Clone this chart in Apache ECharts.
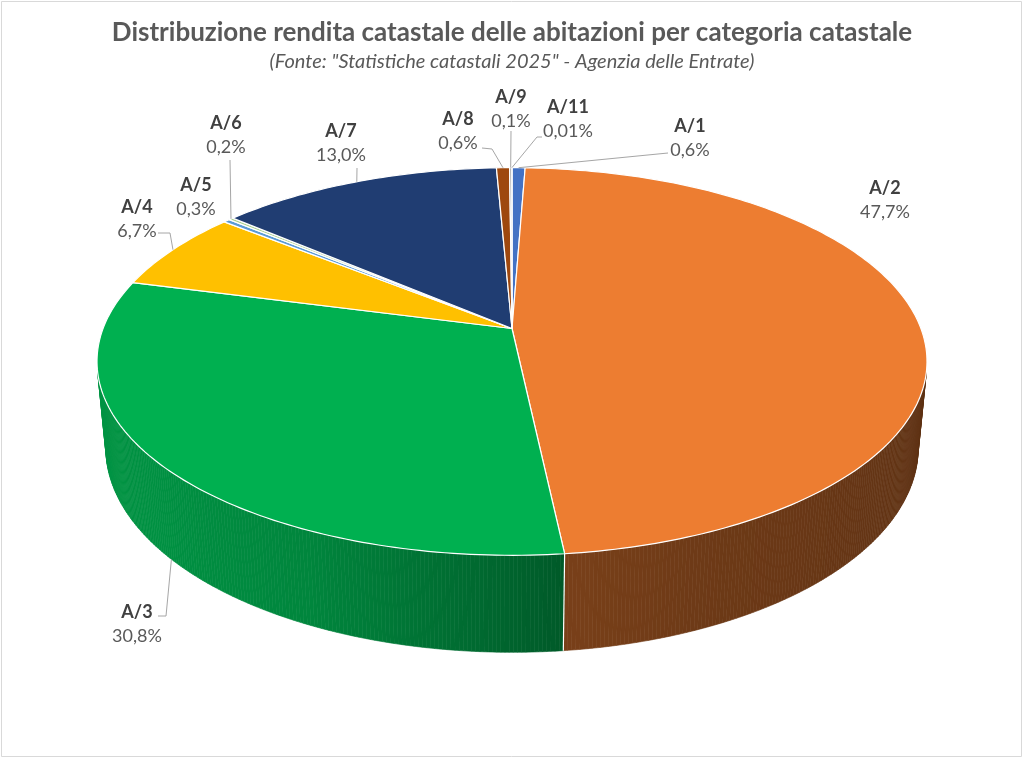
<!DOCTYPE html>
<html><head><meta charset="utf-8">
<script src="https://cdn.jsdelivr.net/npm/echarts/dist/echarts.min.js"></script>
<style>html,body{margin:0;padding:0;background:#fff}#c{width:1024px;height:758px}</style>
</head><body><div id="c"></div>
<script>
// ---- data ----
const categories = ['A/1','A/2','A/3','A/4','A/5','A/6','A/7','A/8','A/9','A/11'];
const shares = [0.6, 47.7, 30.8, 6.7, 0.3, 0.2, 13.0, 0.6, 0.1, 0.01];
const sliceColors = ['#4472C4','#ED7D31','#00B050','#FFC000','#5B9BD5','#A9D18E','#203D72','#9E480E','#A5A5A5','#264478'];
const titleText = 'Distribuzione rendita catastale delle abitazioni per categoria catastale';
const subtitleText = '(Fonte: "Statistiche catastali 2025" - Agenzia delle Entrate)';

// ---- label layout (positions kept apart from data) ----
const labelCenters = [[690,138],[885,200],[137,624],[137,219],[196,197],[226,135],[341,143],[458,131],[511,109],[568,119]];
const leaderStarts = [[[668,153]], null, [[158,616],[166,616]], [[158,233],[170,233]], null, [[230,160]], [[357,168]], [[482,148],[492,149]], [[511,131]], [[542,137],[537,137]]];

// ---- 3D view ----
const VIEW = {cx:512, cy:328.5, f:2133, D:5.216, alpha:27.4*Math.PI/180, h:0.2406};
function proj(thetaDeg, r, z){
  const t = thetaDeg*Math.PI/180;
  const X = r*Math.sin(t), Y = r*Math.cos(t);
  const sa = Math.sin(VIEW.alpha), ca = Math.cos(VIEW.alpha);
  const v = Y*sa + z*ca, w = VIEW.D + Y*ca - z*sa;
  return [VIEW.cx + VIEW.f*X/w, VIEW.cy - VIEW.f*v/w];
}
const shadeTable = [[0,0.4],[100,0.39],[156,0.46],[174,0.51],[184,0.6],[205,0.76],[230,0.82],[265,0.84],[360,0.85]];
function shadeAt(th){
  for (let k=1;k<shadeTable.length;k++){
    if (th<=shadeTable[k][0]){
      const a=shadeTable[k-1], b=shadeTable[k];
      return a[1]+(b[1]-a[1])*(th-a[0])/(b[0]-a[0]);
    }
  }
  return 0.85;
}
function darken(hex, s){
  const n = parseInt(hex.slice(1),16);
  const r=Math.round(((n>>16)&255)*s), g=Math.round(((n>>8)&255)*s), b=Math.round((n&255)*s);
  return 'rgb('+r+','+g+','+b+')';
}
const fmt = v => v.toFixed(v < 0.1 ? 2 : 1).replace('.', ',') + '%';

const total = shares.reduce((a,b)=>a+b,0);
let acc = 0;
const sliceData = shares.map((v,i)=>{
  const s = acc/total*360; acc += v; const e = acc/total*360;
  return {name: categories[i], value: [s, e, v]};
});
// visible outer wall range (faces the camera)
const camY = VIEW.D*Math.cos(VIEW.alpha);
const visA = Math.acos(-1/camY)*180/Math.PI, visB = 360 - visA;

function renderItem(params, api){
  const i = params.dataIndex;
  const s = api.value(0), e = api.value(1), v = api.value(2);
  const color = sliceColors[i];
  const children = [];
  // outer wall
  const a0 = Math.max(s, visA), a1 = Math.min(e, visB);
  if (a1 > a0){
    const n = Math.max(1, Math.ceil((a1-a0)/0.5));
    for (let k=0;k<n;k++){
      const ta = a0+(a1-a0)*k/n, tb = a0+(a1-a0)*(k+1)/n;
      const c = darken(color, shadeAt((ta+tb)/2));
      children.push({type:'polygon', z2:1, shape:{points:[proj(ta,1,0),proj(tb,1,0),proj(tb,1,-VIEW.h),proj(ta,1,-VIEW.h)]},
        style:{fill:c, stroke:c, lineWidth:0.6}});
    }
    if (s >= visA && s <= visB){
      const p = proj(s,1,0), q = proj(s,1,-VIEW.h);
      children.push({type:'line', z2:3, shape:{x1:p[0],y1:p[1],x2:q[0],y2:q[1]}, style:{stroke:'#ffffff', lineWidth:1.2}});
    }
  }
  // top face
  const pts = [proj(0,0,0)];
  const m = Math.max(1, Math.ceil((e-s)/1));
  for (let k=0;k<=m;k++) pts.push(proj(s+(e-s)*k/m,1,0));
  children.push({type:'polygon', z2:10, shape:{points:pts}, style:{fill:color, stroke:'#ffffff', lineWidth:1.2, lineJoin:'round'}});
  // leader
  const ls = leaderStarts[i];
  if (ls){
    const mid = (s+e)/2;
    const z = Math.cos(mid*Math.PI/180) < 0 ? -VIEW.h : 0;
    const anchor = proj(mid,1,z);
    children.push({type:'polyline', z2:20, shape:{points: ls.concat([anchor])}, style:{stroke:'#A6A6A6', lineWidth:1, fill:null}});
  }
  // label
  const lc = labelCenters[i];
  children.push({type:'text', z2:30, x:lc[0], y:lc[1], style:{
    text:'{n|'+categories[i]+'}\n{v|'+fmt(v)+'}', align:'center', verticalAlign:'middle',
    rich:{n:{fontFamily:'Lato', fontWeight:'bold', fontSize:18, lineHeight:24, fill:'#404040', align:'center'},
          v:{fontFamily:'Lato', fontSize:18, lineHeight:24, fill:'#595959', align:'center'}}
  }});
  return {type:'group', children};
}

const chart = echarts.init(document.getElementById('c'), null, {renderer:'canvas'});
chart.setOption({
  backgroundColor:'#ffffff',
  animation:false,
  title:{text:titleText, subtext:subtitleText, left:'center', top:13, itemGap:3,
    textStyle:{fontFamily:'Lato', fontWeight:'bold', fontSize:26, lineHeight:30, color:'#595959'},
    subtextStyle:{fontFamily:'Lato', fontStyle:'italic', fontSize:20, lineHeight:22, color:'#595959'}},
  graphic:[{type:'rect', shape:{x:1.5,y:1.5,width:1020,height:755}, style:{fill:null, stroke:'#D9D9D9', lineWidth:1}, z:-1, silent:true}],
  series:[{type:'custom', coordinateSystem:'none', silent:true, renderItem, data: sliceData}]
});
</script></body></html>
